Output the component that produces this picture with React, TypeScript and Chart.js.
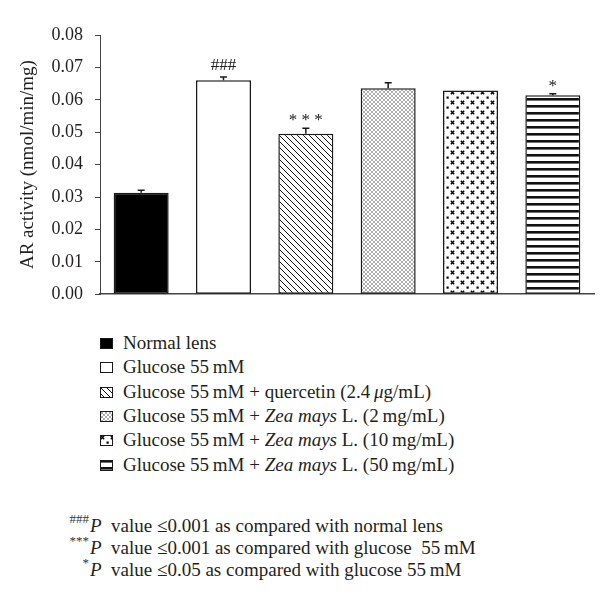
import { useEffect, useRef } from "react";
import { Chart, registerables } from "chart.js";

Chart.register(...registerables);

const categories = [
  "Normal lens",
  "Glucose 55 mM",
  "Glucose 55 mM + quercetin (2.4 μg/mL)",
  "Glucose 55 mM + Zea mays L. (2 mg/mL)",
  "Glucose 55 mM + Zea mays L. (10 mg/mL)",
  "Glucose 55 mM + Zea mays L. (50 mg/mL)",
];
const activity = [0.0313, 0.066, 0.0495, 0.0636, 0.0629, 0.0614];
const errorValues = [0.0008, 0.001, 0.0017, 0.0017, 0, 0.0005];
const significance = ["", "###", "* * *", "", "", "*"];
const fillKinds = ["solid", "blank", "diagonal", "crosshatch", "dots", "stripes"];
const yTickValues = [0, 0.01, 0.02, 0.03, 0.04, 0.05, 0.06, 0.07, 0.08];
const yTitle = "AR activity (nmol/min/mg)";

const legendLead = [
  "Normal lens",
  "Glucose 55\u2009mM",
  "Glucose 55\u2009mM + quercetin (2.4\u2009",
  "Glucose 55\u2009mM + ",
  "Glucose 55\u2009mM + ",
  "Glucose 55\u2009mM + ",
];
const legendItalic = ["", "", "μ", "Zea mays", "Zea mays", "Zea mays"];
const legendTail = ["", "", "g/mL)", " L. (2\u2009mg/mL)", " L. (10\u2009mg/mL)", " L. (50\u2009mg/mL)"];

const footMarks = ["###", "***", "*"];
const footTexts = [
  "value ≤0.001 as compared with normal lens",
  "value ≤0.001 as compared with glucose\u00a0 55\u2009mM",
  "value ≤0.05 as compared with glucose 55\u2009mM",
];

const SERIF = '"Liberation Serif", "Times New Roman", serif';

function makeFill(kind: string): CanvasPattern | string {
  if (kind === "solid") return "#000";
  if (kind === "blank") return "#fff";
  const c = document.createElement("canvas");
  const g = c.getContext("2d")!;
  if (kind === "diagonal") {
    c.width = 6; c.height = 6;
    g.fillStyle = "#fff"; g.fillRect(0, 0, 6, 6);
    g.strokeStyle = "#111"; g.lineWidth = 1;
    g.beginPath();
    g.moveTo(-1, -1); g.lineTo(7, 7);
    g.moveTo(-1, 5); g.lineTo(1, 7);
    g.moveTo(5, -1); g.lineTo(7, 1);
    g.stroke();
  } else if (kind === "crosshatch") {
    c.width = 4; c.height = 4;
    g.fillStyle = "#fff"; g.fillRect(0, 0, 4, 4);
    g.strokeStyle = "#777"; g.lineWidth = 0.6;
    g.beginPath();
    g.moveTo(0, 0); g.lineTo(4, 4);
    g.moveTo(4, 0); g.lineTo(0, 4);
    g.stroke();
  } else if (kind === "dots") {
    c.width = 10; c.height = 10;
    g.fillStyle = "#fff"; g.fillRect(0, 0, 10, 10);
    g.strokeStyle = "#000"; g.lineWidth = 1.4;
    g.beginPath();
    g.moveTo(0.8, 0.8); g.lineTo(4.2, 4.2);
    g.moveTo(4.2, 0.8); g.lineTo(0.8, 4.2);
    g.stroke();
    g.fillStyle = "#000";
    g.fillRect(6.5, 6.5, 2.2, 2.2);
  } else if (kind === "stripes") {
    c.width = 4; c.height = 7;
    g.fillStyle = "#fff"; g.fillRect(0, 0, 4, 7);
    g.fillStyle = "#111"; g.fillRect(0, 0, 4, 2.6);
  }
  return g.createPattern(c, "repeat")!;
}

const errorBarPlugin = {
  id: "errorBarsAndMarks",
  afterDatasetsDraw(chart: any) {
    const ctx = chart.ctx;
    const meta = chart.getDatasetMeta(0);
    const yScale = chart.scales.y;
    ctx.save();
    meta.data.forEach((bar: any, i: number) => {
      const err = errorValues[i];
      const top = yScale.getPixelForValue(activity[i] + err);
      if (err > 0) {
        ctx.strokeStyle = "#1a1a1a";
        ctx.lineWidth = 1.5;
        ctx.beginPath();
        ctx.moveTo(bar.x, bar.y);
        ctx.lineTo(bar.x, top);
        ctx.moveTo(bar.x - 3.5, top);
        ctx.lineTo(bar.x + 3.5, top);
        ctx.stroke();
      }
      const mark = significance[i];
      if (mark) {
        ctx.font = `17px ${SERIF}`;
        ctx.fillStyle = "#222";
        ctx.textAlign = "center";
        ctx.textBaseline = "alphabetic";
        const m = ctx.measureText(mark);
        ctx.fillText(mark, bar.x, top - 7 - m.actualBoundingBoxDescent);
      }
    });
    ctx.restore();
  },
};

export default function App() {
  const canvasRef = useRef<HTMLCanvasElement | null>(null);
  const swatchRefs = useRef<(HTMLCanvasElement | null)[]>([]);

  useEffect(() => {
    const canvas = canvasRef.current!;
    const fills = fillKinds.map(makeFill);
    const chart = new Chart(canvas, {
      type: "bar",
      data: {
        labels: categories,
        datasets: [
          {
            data: activity,
            backgroundColor: fills as any,
            borderColor: "#1a1a1a",
            borderWidth: 1.5,
            borderSkipped: false,
            barPercentage: 0.668,
            categoryPercentage: 1,
          },
        ],
      },
      options: {
        animation: false,
        responsive: false,
        devicePixelRatio: 1,
        layout: { padding: { top: 35, right: 6, bottom: 0, left: 0 } },
        plugins: { legend: { display: false }, tooltip: { enabled: false } },
        scales: {
          x: {
            ticks: { display: false },
            grid: { display: false, drawTicks: false },
            border: { display: true, color: "#444", width: 1.5 },
            afterFit: (s: any) => {
              s.height = 10;
            },
          },
          y: {
            min: 0,
            max: 0.08,
            afterBuildTicks: (s: any) => {
              s.ticks = yTickValues.map((v) => ({ value: v }));
            },
            ticks: {
              callback: (v: any) => Number(v).toFixed(2),
              font: { family: SERIF, size: 18 },
              color: "#231f20",
              padding: 12,
            },
            grid: { display: true, drawOnChartArea: false, drawTicks: true, tickLength: 5, color: "#444", lineWidth: 1 },
            border: { display: true, color: "#444", width: 1 },
            title: {
              display: true,
              text: yTitle,
              font: { family: SERIF, size: 19 },
              color: "#231f20",
              padding: { top: 17, bottom: 0 },
            },
            afterFit: (s: any) => {
              s.width = 100;
            },
          },
        },
      },
      plugins: [errorBarPlugin],
    });

    swatchRefs.current.forEach((sc, i) => {
      if (!sc) return;
      const g = sc.getContext("2d")!;
      const f = makeFill(fillKinds[i]);
      g.fillStyle = f as any;
      g.fillRect(0, 0, sc.width, sc.height);
      g.strokeStyle = "#1a1a1a";
      g.lineWidth = 1;
      g.strokeRect(0.5, 0.5, sc.width - 1, sc.height - 1);
    });

    return () => chart.destroy();
  }, []);

  return (
    <div
      style={{
        position: "fixed",
        left: 0,
        top: 0,
        width: 600,
        height: 611,
        background: "#fff",
        fontFamily: SERIF,
        color: "#231f20",
        overflow: "hidden",
      }}
    >
      <canvas ref={canvasRef} width={600} height={317} style={{ position: "absolute", left: 0, top: 0 }} />
      {legendLead.map((lead, i) => {
        const center = 343 + i * 24.3;
        return (
          <div key={i}>
            <canvas
              ref={(el) => {
                swatchRefs.current[i] = el;
              }}
              width={13}
              height={11}
              style={{ position: "absolute", left: 100, top: Math.round(center - 5) }}
            />
            <div
              style={{
                position: "absolute",
                left: 123,
                top: center - 12,
                fontSize: 19,
                lineHeight: "24px",
                whiteSpace: "pre",
              }}
            >
              {lead}
              {legendItalic[i] ? <i>{legendItalic[i]}</i> : null}
              {legendTail[i]}
            </div>
          </div>
        );
      })}
      {footMarks.map((mark, i) => {
        const center = 526 + i * 22;
        return (
          <div key={"f" + i}>
            <div
              style={{
                position: "absolute",
                right: 600 - 89,
                top: center - 14,
                fontSize: 13,
                lineHeight: "14px",
                color: "#333",
                whiteSpace: "pre",
              }}
            >
              {mark}
            </div>
            <div
              style={{
                position: "absolute",
                left: 90,
                top: center - 12,
                fontSize: 19,
                lineHeight: "24px",
                whiteSpace: "pre",
              }}
            >
              <i>P</i>
              {"\u2002" + footTexts[i]}
            </div>
          </div>
        );
      })}
    </div>
  );
}
